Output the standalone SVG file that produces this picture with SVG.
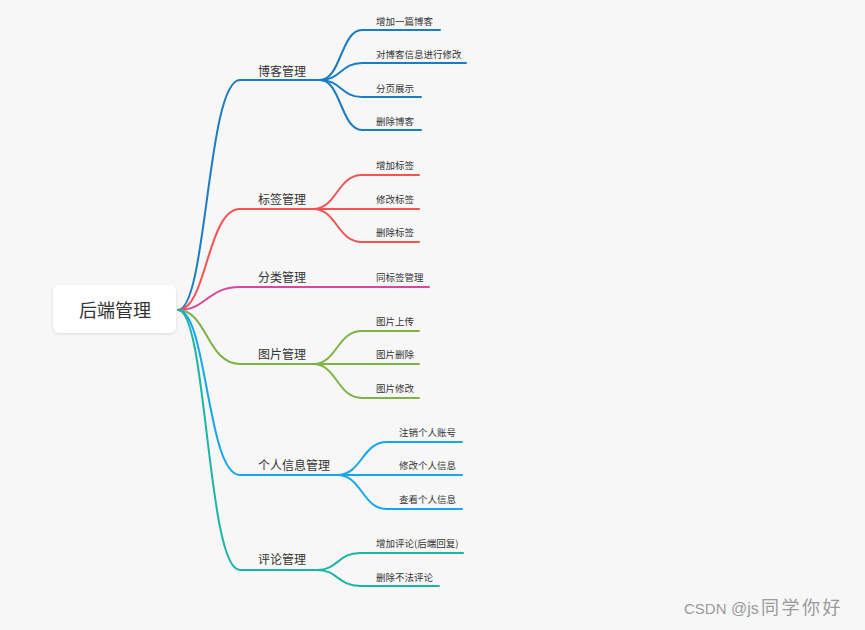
<svg xmlns="http://www.w3.org/2000/svg" width="865" height="630" viewBox="0 0 865 630">
<defs>
<filter id="sh" x="-20%" y="-30%" width="140%" height="160%">
<feDropShadow dx="0" dy="1" stdDeviation="1.5" flood-color="#000" flood-opacity="0.12"/>
</filter>
</defs>
<style>
text{font-family:"Noto Sans CJK SC","Noto Sans",sans-serif;fill:#333}
.p{font-size:12px}
.c{font-size:9.5px}
.l{fill:none;stroke-width:2;stroke-linecap:round}
.b1{stroke:#1a7cc4}
.b2{stroke:#f55252}
.b3{stroke:#d9479b}
.b4{stroke:#7db445}
.b5{stroke:#15a6ec}
.b6{stroke:#1db5a6}
.wm{fill:#9a9a9a;font-family:"Liberation Sans","Noto Sans CJK SC",sans-serif}
</style>
<rect width="865" height="630" fill="#f7f7f7"/>
<g id="connectors">
<path class="l b1" d="M178,310 C207,310 207,80 240,80 H320"/>
<path class="l b1" d="M320,80 C341,80 341,30 362,30 H440"/>
<path class="l b1" d="M320,80 C341,80 341,63 362,63 H466"/>
<path class="l b1" d="M320,80 C341,80 341,97 362,97 H421"/>
<path class="l b1" d="M320,80 C341,80 341,130 362,130 H421"/>
<path class="l b2" d="M178,310 C207,310 207,209 240,209 H313"/>
<path class="l b2" d="M313,209 C337,209 337,175 362,175 H419"/>
<path class="l b2" d="M313,209 H419"/>
<path class="l b2" d="M313,209 C337,209 337,242 362,242 H419"/>
<path class="l b3" d="M178,310 C207,310 207,287 240,287 H429"/>
<path class="l b4" d="M178,310 C207,310 207,364 240,364 H313"/>
<path class="l b4" d="M313,364 C337,364 337,331 362,331 H419"/>
<path class="l b4" d="M313,364 H419"/>
<path class="l b4" d="M313,364 C337,364 337,398 362,398 H419"/>
<path class="l b5" d="M178,310 C207,310 207,475 240,475 H337"/>
<path class="l b5" d="M337,475 C362,475 362,442 387,442 H462"/>
<path class="l b5" d="M337,475 H462"/>
<path class="l b5" d="M337,475 C362,475 362,509 387,509 H462"/>
<path class="l b6" d="M178,310 C207,310 207,570 240,570 H317"/>
<path class="l b6" d="M317,570 C338,570 338,553 360,553 H463"/>
<path class="l b6" d="M317,570 C338,570 338,586 360,586 H439"/>
</g>
<g id="root">
<rect x="53" y="285" width="123" height="48" rx="6" fill="#fff" filter="url(#sh)"/>
<text x="115" y="316.5" font-size="18" text-anchor="middle">后端管理</text>
</g>
<g id="n-blog"><text class="p" x="258" y="75.5">博客管理</text></g>
<g id="n-blog-1"><text class="c" x="376" y="24.5">增加一篇博客</text></g>
<g id="n-blog-2"><text class="c" x="376" y="57.5">对博客信息进行修改</text></g>
<g id="n-blog-3"><text class="c" x="376" y="91.5">分页展示</text></g>
<g id="n-blog-4"><text class="c" x="376" y="124.5">删除博客</text></g>
<g id="n-tag"><text class="p" x="258" y="203.5">标签管理</text></g>
<g id="n-tag-1"><text class="c" x="376" y="168.5">增加标签</text></g>
<g id="n-tag-2"><text class="c" x="376" y="202.5">修改标签</text></g>
<g id="n-tag-3"><text class="c" x="376" y="235.5">删除标签</text></g>
<g id="n-cat"><text class="p" x="258" y="281.5">分类管理</text></g>
<g id="n-cat-1"><text class="c" x="376" y="280.5">同标签管理</text></g>
<g id="n-img"><text class="p" x="258" y="358.5">图片管理</text></g>
<g id="n-img-1"><text class="c" x="376" y="324.5">图片上传</text></g>
<g id="n-img-2"><text class="c" x="376" y="357.5">图片删除</text></g>
<g id="n-img-3"><text class="c" x="376" y="391.5">图片修改</text></g>
<g id="n-user"><text class="p" x="258" y="469.5">个人信息管理</text></g>
<g id="n-user-1"><text class="c" x="399" y="435.5">注销个人账号</text></g>
<g id="n-user-2"><text class="c" x="399" y="468.5">修改个人信息</text></g>
<g id="n-user-3"><text class="c" x="399" y="502.5">查看个人信息</text></g>
<g id="n-cmt"><text class="p" x="258" y="563.5">评论管理</text></g>
<g id="n-cmt-1"><text class="c" x="376" y="546.5">增加评论(后端回复)</text></g>
<g id="n-cmt-2"><text class="c" x="376" y="580.5">删除不法评论</text></g>
<text class="wm" y="614" font-size="15"><tspan x="684">CSDN</tspan><tspan x="731" font-size="16">@js</tspan><tspan x="761" font-size="18" letter-spacing="2.5">同学你好</tspan></text>
</svg>
